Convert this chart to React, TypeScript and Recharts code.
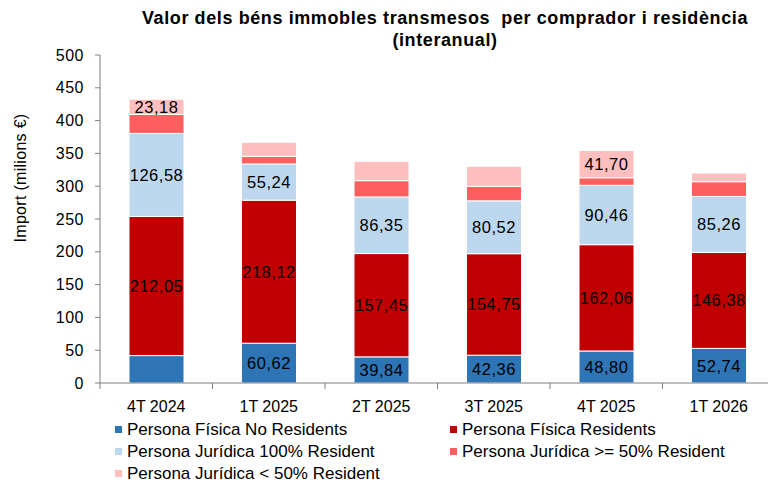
import { BarChart, Bar, XAxis, YAxis, LabelList } from 'recharts'

const categories = ['4T 2024', '1T 2025', '2T 2025', '3T 2025', '4T 2025', '1T 2026']

const fisicaNoRes = [41.8, 60.62, 39.84, 42.36, 48.8, 52.74]
const fisicaRes = [212.05, 218.12, 157.45, 154.75, 162.06, 146.38]
const juridica100 = [126.58, 55.24, 86.35, 80.52, 90.46, 85.26]
const juridica50 = [29.0, 11.5, 24.8, 22.2, 11.5, 22.5]
const juridicaMenys50 = [23.18, 21.5, 29.5, 30.5, 41.7, 13.2]

// which segments carry a value label in the reference
const showFisicaNoRes = [false, true, true, true, true, true]
const showFisicaRes = [true, true, true, true, true, true]
const showJuridica100 = [true, true, true, true, true, true]
const showJuridica50 = [false, false, false, false, false, false]
const showJuridicaMenys50 = [true, false, false, false, true, false]

const yTicks = [0, 50, 100, 150, 200, 250, 300, 350, 400, 450, 500]

const series = [
  { key: 'fnr', name: 'Persona Física No Residents', color: '#2E75B6', values: fisicaNoRes, show: showFisicaNoRes },
  { key: 'fr', name: 'Persona Física Residents', color: '#C00000', values: fisicaRes, show: showFisicaRes },
  { key: 'j100', name: 'Persona Jurídica 100% Resident', color: '#BDD7EE', values: juridica100, show: showJuridica100 },
  { key: 'j50', name: 'Persona Jurídica >= 50% Resident', color: '#FF5F5F', values: juridica50, show: showJuridica50 },
  { key: 'jm50', name: 'Persona Jurídica < 50% Resident', color: '#FFBFBF', values: juridicaMenys50, show: showJuridicaMenys50 },
]

const data = categories.map((c, i) => {
  const row: Record<string, string | number> = { cat: c }
  series.forEach(s => { row[s.key] = s.values[i] })
  return row
})

const FONT = 'Arial, "Liberation Sans", sans-serif'
const BAND = 675 / 6

const fmt = (v: number) => v.toFixed(2).replace('.', ',')

// x tick with Excel style tick marks between categories
const XTick = ({ x, y, payload, index }: any) => (
  <g>
    <line x1={x - BAND / 2} y1={y - 8} x2={x - BAND / 2} y2={y - 2} stroke="#7f7f7f" />
    {index === categories.length - 1 && (
      <line x1={x + BAND / 2} y1={y - 8} x2={x + BAND / 2} y2={y - 2} stroke="#7f7f7f" />
    )}
    <text x={x} y={y + 21} textAnchor="middle" fontSize={16} fill="#000" fontFamily={FONT}>
      {payload.value}
    </text>
  </g>
)

const YLabel = () => (
  <text
    x={26} y={178} transform="rotate(-90, 26, 178)" textAnchor="middle"
    fontSize={16} fill="#000" fontFamily={FONT} letterSpacing={0.3}
  >
    Import (milions €)
  </text>
)

const ChartLegend = () => (
  <div style={{
    position: 'absolute', left: 115, top: 420,
    display: 'grid', gridTemplateColumns: '335px 300px', rowGap: 3,
    fontFamily: FONT, fontSize: 17, color: '#000', lineHeight: '19px',
  }}>
    {series.map(s => (
      <div key={s.key} style={{ display: 'flex', alignItems: 'center', whiteSpace: 'nowrap' }}>
        <span style={{ width: 7, height: 7, background: s.color, marginRight: 5, display: 'inline-block' }} />
        <span>{s.name}</span>
      </div>
    ))}
  </div>
)

export default function App() {
  return (
    <div style={{
      position: 'absolute', top: 0, left: 0, width: 768, height: 486,
      overflow: 'hidden', background: '#fff',
    }}>
      <div style={{
        position: 'absolute', top: 7, left: 95, width: 700, textAlign: 'center',
        fontFamily: FONT, fontWeight: 'bold', fontSize: 18, letterSpacing: 0.6,
        lineHeight: '22px', color: '#000', zIndex: 1,
      }}>
        Valor dels béns immobles transmesos&nbsp; per comprador i residència<br />(interanual)
      </div>
      <BarChart
        width={776}
        height={486}
        data={data}
        margin={{ top: 55, right: 1, left: 0, bottom: 73 }}
        barSize={55}
      >
        <XAxis
          dataKey="cat"
          height={30}
          tick={<XTick />}
          tickLine={false}
          axisLine={{ stroke: '#7f7f7f' }}
          interval={0}
        />
        <YAxis
          width={100}
          domain={[0, 500]}
          ticks={yTicks}
          tick={{ fontSize: 16, fill: '#000', fontFamily: FONT, letterSpacing: 0.5 }}
          tickSize={5}
          tickMargin={11}
          tickLine={{ stroke: '#7f7f7f' }}
          axisLine={{ stroke: '#7f7f7f' }}
          label={<YLabel />}
        />
        {series.map(s => (
          <Bar
            key={s.key}
            dataKey={s.key}
            name={s.name}
            stackId="a"
            fill={s.color}
            stroke="#fff"
            strokeWidth={1}
            isAnimationActive={false}
          >
            <LabelList
              dataKey={s.key}
              position="center"
              content={(p: any) => {
                if (!s.show[p.index]) return null
                return (
                  <text
                    x={p.x + p.width / 2}
                    y={p.y + p.height / 2}
                    dy={6}
                    textAnchor="middle"
                    fontSize={16.5}
                    letterSpacing={0.5}
                    fill="#000"
                    fontFamily={FONT}
                  >
                    {fmt(s.values[p.index])}
                  </text>
                )
              }}
            />
          </Bar>
        ))}
      </BarChart>
      <ChartLegend />
    </div>
  )
}
